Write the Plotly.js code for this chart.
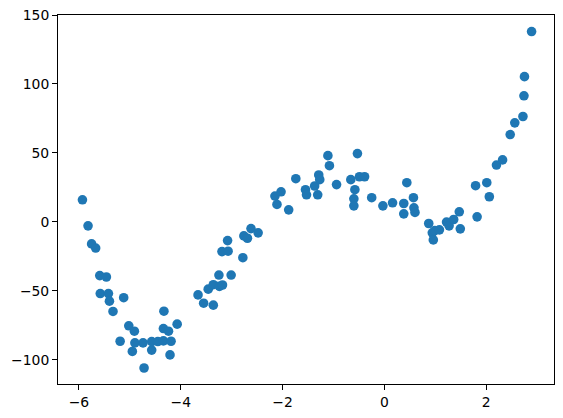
<!DOCTYPE html>
<html>
<head>
<meta charset="utf-8">
<script src="https://cdn.plot.ly/plotly-3.0.1.min.js"></script>
<style>html,body{margin:0;padding:0;background:#fff;}#chart{width:563px;height:418px;}</style>
</head>
<body>
<div id="chart"></div>
<script>
const xValues = [-5.93,-5.82,-5.75,-5.67,-5.59,-5.46,-5.58,-5.42,-5.40,-5.33,-5.12,-5.19,-5.02,-4.91,-4.95,-4.90,-4.72,-4.74,-4.57,-4.57,-4.45,-4.34,-4.33,-4.34,-4.24,-4.19,-4.21,-4.07,
  -3.66,-3.55,-3.46,-3.36,-3.36,-3.25,-3.24,-3.18,-3.19,-3.07,-3.08,-3.01,-2.78,-2.76,-2.69,-2.62,-2.48,
  -2.15,-2.03,-2.11,-1.88,-1.74,-1.55,-1.53,-1.37,-1.29,-1.27,-1.31,-1.11,-1.08,-0.94,-0.66,-0.58,-0.60,-0.60,-0.53,-0.49,-0.39,-0.25,
  -0.03,0.16,0.38,0.38,0.44,0.57,0.58,0.60,0.87,0.94,0.96,0.99,1.08,1.22,1.27,1.36,1.47,1.49,1.79,1.82,2.01,2.06,2.20,2.32,2.47,2.56,2.72,2.74,2.75,2.89];
const yValues = [16,-2.9,-16,-19,-39,-40,-52,-52,-57.5,-65,-55,-86.6,-75.4,-79.3,-94,-87.8,-106,-87.8,-93,-86.8,-86.8,-86.3,-64.8,-77.4,-79.3,-86.6,-96.5,-74.2,
  -53,-59,-48.8,-60.4,-45.6,-38.6,-46.8,-45.8,-21.6,-21.3,-13.6,-38.6,-26,-10.2,-11.9,-4.9,-8,
  18.7,21.8,12.6,8.7,31.3,23.3,19.6,26,34,30.6,19.6,48,40.7,27,30.6,23.3,16.7,11.6,49.5,32.7,32.7,17.5,
  11.6,13.8,13.3,5.8,28.4,17.5,10.2,6.8,-1.2,-8,-13.1,-6.3,-5.8,-0.2,-2.9,1.7,7.3,-5.1,26.2,3.6,28.4,18.2,41.2,44.9,63.3,71.8,76.4,91.4,105.3,138];
const xTicks = [-6,-4,-2,0,2];
const yTicks = [-100,-50,0,50,100,150];

const axisCommon = {
  showgrid:false, zeroline:false, showline:true, mirror:true, linecolor:'#000', linewidth:1,
  ticks:'outside', ticklen:5, tickwidth:1, tickcolor:'#000',
  tickfont:{family:'DejaVu Sans', size:13.9, color:'#000'}, tickmode:'array'
};
Plotly.newPlot('chart', [{
  x:xValues, y:yValues, type:'scatter', mode:'markers',
  marker:{color:'#1f77b4', size:9.6, line:{width:0}}
}], {
  width:563, height:418,
  margin:{l:58, r:9, t:15, b:34},
  paper_bgcolor:'#fff', plot_bgcolor:'#fff', showlegend:false,
  xaxis:Object.assign({}, axisCommon, {range:[-6.41,3.33], tickvals:xTicks}),
  yaxis:Object.assign({}, axisCommon, {range:[-117.6,150], tickvals:yTicks})
}, {displayModeBar:false, staticPlot:true});
</script>
</body>
</html>
